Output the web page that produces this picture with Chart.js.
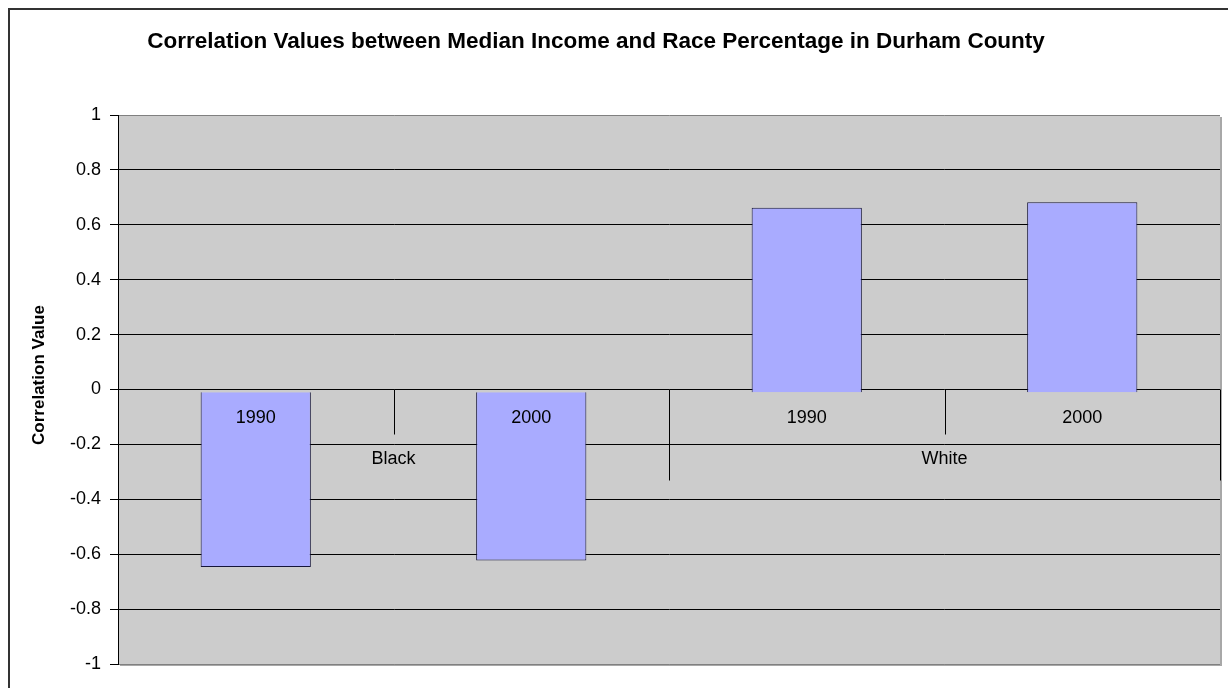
<!DOCTYPE html>
<html lang="en">
<head>
<meta charset="utf-8">
<title>Correlation Values - Durham County</title>
<script src="https://cdn.jsdelivr.net/npm/chart.js@4.4.0/dist/chart.umd.min.js"></script>
<style>
  html, body { margin: 0; padding: 0; background: #fff; }
  #wrap { width: 1228px; height: 688px; }
</style>
</head>
<body>
<div id="wrap"><canvas id="corrChart" width="1228" height="688"></canvas></div>
<script>
  // one bar per census year, grouped by race
  const years = ['1990', '2000', '1990', '2000'];
  const races = ['Black', 'White'];
  const correlation = [-0.647, -0.623, 0.662, 0.682];
  const yRange = [-1, 1];

  const chartTitle = 'Correlation Values between Median Income and Race Percentage in Durham County';
  const yTitle = 'Correlation Value';
  const FONT = '"Liberation Sans", Arial, sans-serif';

  // grey plot area, chart border
  const excelFrame = {
    id: 'excelFrame',
    beforeDraw(chart) {
      const { ctx, chartArea: a } = chart;
      ctx.save();
      ctx.fillStyle = '#fff';
      ctx.fillRect(0, 0, chart.width, chart.height);
      ctx.strokeStyle = '#333';
      ctx.lineWidth = 2;
      ctx.strokeRect(9, 9, 1300, 800);
      ctx.fillStyle = '#a8a8a8';
      ctx.fillRect(a.left + 2, a.top + 2, a.width, a.height);
      ctx.fillStyle = '#cccccc';
      ctx.fillRect(a.left, a.top, a.width, a.height);
      ctx.restore();
    },
    afterDatasetsDraw(chart) {
      const { ctx } = chart;
      const x = chart.scales.x, y = chart.scales.y;
      const y0 = y.getPixelForValue(0);
      const half = (x.getPixelForValue(1) - x.getPixelForValue(0)) / 2;
      ctx.save();
      ctx.fillStyle = '#000';
      ctx.textAlign = 'center';
      ctx.textBaseline = 'middle';
      ctx.font = '18px ' + FONT;
      years.forEach((yr, i) => ctx.fillText(yr, x.getPixelForValue(i), y0 + 29));
      races.forEach((r, g) => {
        const cx = (x.getPixelForValue(2 * g) + x.getPixelForValue(2 * g + 1)) / 2;
        ctx.fillText(r, cx, y0 + 70);
      });
      // dividers of the two-level category axis
      ctx.strokeStyle = '#000';
      ctx.lineWidth = 1;
      for (let i = 1; i <= years.length; i++) {
        const px = Math.round(x.getPixelForValue(i) - half) + 0.5;
        const len = i % 2 === 0 ? 91 : 45;
        ctx.beginPath();
        ctx.moveTo(px, y0);
        ctx.lineTo(px, y0 + len);
        ctx.stroke();
      }
      ctx.restore();
    },
    afterDraw(chart) {
      const { ctx } = chart;
      ctx.save();
      ctx.fillStyle = '#000';
      ctx.textAlign = 'center';
      ctx.textBaseline = 'middle';
      ctx.font = 'bold 22.5px ' + FONT;
      ctx.fillText(chartTitle, 596, 42);
      ctx.translate(39, 375);
      ctx.rotate(-Math.PI / 2);
      ctx.font = 'bold 17px ' + FONT;
      ctx.fillText(yTitle, 0, 0);
      ctx.restore();
    }
  };

  const ctx = document.getElementById('corrChart').getContext('2d');
  new Chart(ctx, {
    type: 'bar',
    data: {
      labels: years,
      datasets: [{
        data: correlation,
        base: -0.01,
        backgroundColor: '#a9abff',
        borderColor: '#16163a',
        borderWidth: 1,
        barPercentage: 0.4,
        categoryPercentage: 1
      }]
    },
    options: {
      responsive: false,
      animation: false,
      devicePixelRatio: 1,
      layout: { padding: { left: 0, top: 115, right: 8, bottom: 24 } },
      plugins: {
        legend: { display: false },
        tooltip: { enabled: false },
        title: { display: false }
      },
      scales: {
        x: { display: false },
        y: {
          min: yRange[0],
          max: yRange[1],
          afterFit(s) { s.width = 118; },
          border: { color: '#000', width: 1 },
          grid: {
            color: c => (c.tick && Math.abs(c.tick.value) > 0.99) ? '#808080' : '#000',
            tickColor: '#000',
            tickLength: 8,
            lineWidth: 1
          },
          ticks: {
            stepSize: 0.2,
            color: '#000',
            padding: 9,
            font: { size: 18, family: FONT },
            callback: v => String(+v.toFixed(1))
          }
        }
      }
    },
    plugins: [excelFrame]
  });
</script>
</body>
</html>
